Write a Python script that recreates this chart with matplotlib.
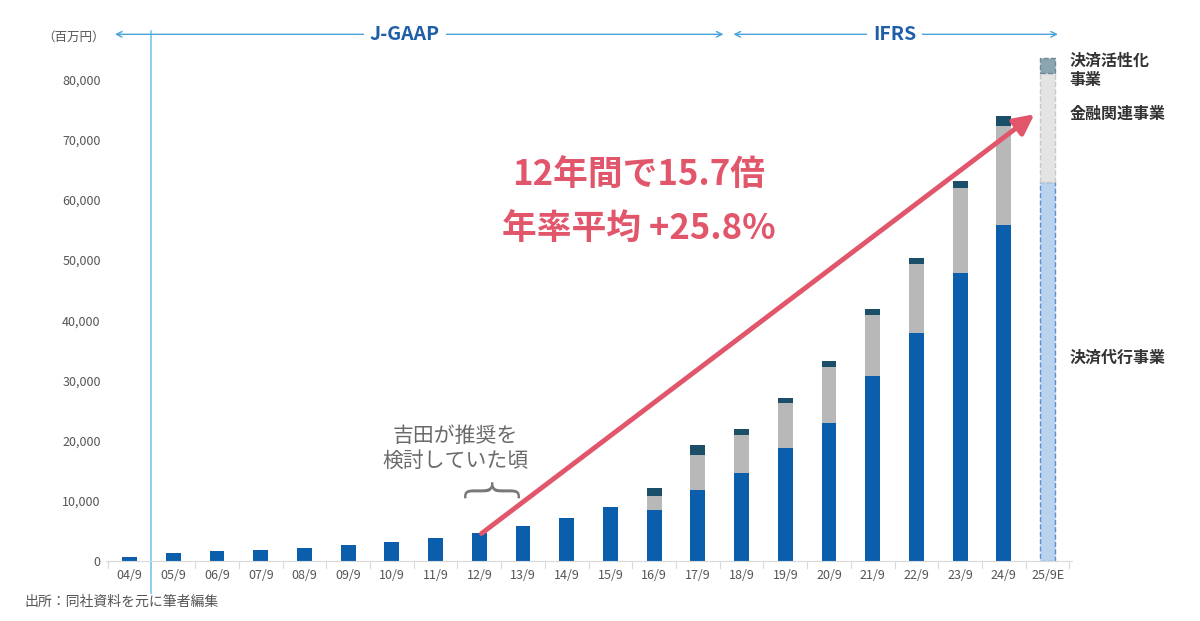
import matplotlib
matplotlib.use("Agg")
import matplotlib.pyplot as plt
import numpy as np

plt.rcParams['font.family'] = ['Noto Sans CJK JP', 'DejaVu Sans']

labels = ["04/9","05/9","06/9","07/9","08/9","09/9","10/9","11/9","12/9","13/9","14/9","15/9",
          "16/9","17/9","18/9","19/9","20/9","21/9","22/9","23/9","24/9","25/9E"]
payment = [700,1300,1600,1900,2200,2600,3100,3900,4600,5800,7100,8900,
           8500,11800,14600,18750,22900,30700,37800,47800,55800,62900]
finance = [0,0,0,0,0,0,0,0,0,0,0,0,
           2300,5800,6300,7450,9300,10100,11500,14200,16400,18100]
activation = [0,0,0,0,0,0,0,0,0,0,0,0,
              1300,1600,1000,800,1000,1000,1100,1200,1800,2500]

fig = plt.figure(figsize=(12, 6.21), dpi=100)
ax = fig.add_axes([0.088, 0.0966, 0.805, 0.853])
x = np.arange(len(labels))
w = 0.34
n = len(labels) - 1
p = np.array(payment); f = np.array(finance); a = np.array(activation)
ax.bar(x[:n], p[:n], w, color="#0a5eac")
ax.bar(x[:n], f[:n], w, bottom=p[:n], color="#b8b8b8")
ax.bar(x[:n], a[:n], w, bottom=p[:n]+f[:n], color="#1b4e68")
ax.bar(x[n], p[n], w, color="#b9d3ee", edgecolor="#5b8fd0", ls="--", lw=1)
ax.bar(x[n], f[n], w, bottom=p[n], color="#e4e4e4", edgecolor="#c8c8c8", ls="--", lw=1)
ax.bar(x[n], a[n], w, bottom=p[n]+f[n], color="#8aa4b0", edgecolor="#6d8a98", ls="--", lw=1)

ax.set_xlim(-0.55, n + 0.55)
ax.set_ylim(0, 88000)
ax.set_yticks(range(0, 80001, 10000))
ax.set_yticklabels([f"{v:,}" for v in range(0, 80001, 10000)], fontsize=9, color="#555555")
ax.set_xticks(x)
ax.set_xticklabels(labels, fontsize=9, color="#555555")
for s in ["top", "right", "left"]:
    ax.spines[s].set_visible(False)
ax.spines["bottom"].set_color("#d9d9d9")
ax.tick_params(axis="y", length=0)
ax.tick_params(axis="x", length=0, pad=6)
for xi in np.arange(-0.5, n + 1, 1):
    ax.plot([xi, xi], [0, -1200], color="#d9d9d9", lw=0.8, clip_on=False)
ax.axvline(0.5, color="#7cc6ea", lw=1.2, ymin=-0.06, ymax=1.0, clip_on=False)

ty = 87500
ax.annotate("", xy=(-0.4, ty), xytext=(13.65, ty), arrowprops=dict(arrowstyle="<->", color="#4aa3d8", lw=1), annotation_clip=False)
ax.annotate("", xy=(13.75, ty), xytext=(21.3, ty), arrowprops=dict(arrowstyle="<->", color="#4aa3d8", lw=1), annotation_clip=False)
ax.text(6.3, ty, "J-GAAP", ha="center", va="center", fontsize=14, fontweight="bold", color="#1f5fa8",
        bbox=dict(fc="white", ec="none", pad=4))
ax.text(17.5, ty, "IFRS", ha="center", va="center", fontsize=14, fontweight="bold", color="#1f5fa8",
        bbox=dict(fc="white", ec="none", pad=4))
fig.text(0.035, 0.935, "（百万円）", fontsize=9, color="#555555")

ax.annotate("", xy=(20.75, 74500), xytext=(8.0, 4300),
            arrowprops=dict(arrowstyle="-|>,head_length=1.2,head_width=0.6", color="#e2566b", lw=3.5))
ax.text(11.65, 64000, "12年間で15.7倍", ha="center", va="center", fontsize=25, fontweight="bold", color="#e2566b")
ax.text(11.65, 55000, "年率平均 +25.8%", ha="center", va="center", fontsize=25, fontweight="bold", color="#e2566b")
ax.text(7.45, 18700, "吉田が推奨を\n検討していた頃", ha="center", va="center", fontsize=15, color="#6a6a6a", linespacing=1.2)
ax.text(8.0, 10000, "{", rotation=-90, ha="center", va="center", fontsize=44, color="#777777",
        fontweight="light", family="DejaVu Sans")

for yv, t in [(81500, "決済活性化\n事業"), (74300, "金融関連事業"), (33800, "決済代行事業")]:
    ax.text(n + 0.5, yv, t, ha="left", va="center", fontsize=11.5, color="#333333", fontweight="bold", linespacing=1.2)

fig.text(0.02, 0.025, "出所：同社資料を元に筆者編集", fontsize=10, color="#555555")
fig.savefig("out.png", dpi=100, facecolor="white")
